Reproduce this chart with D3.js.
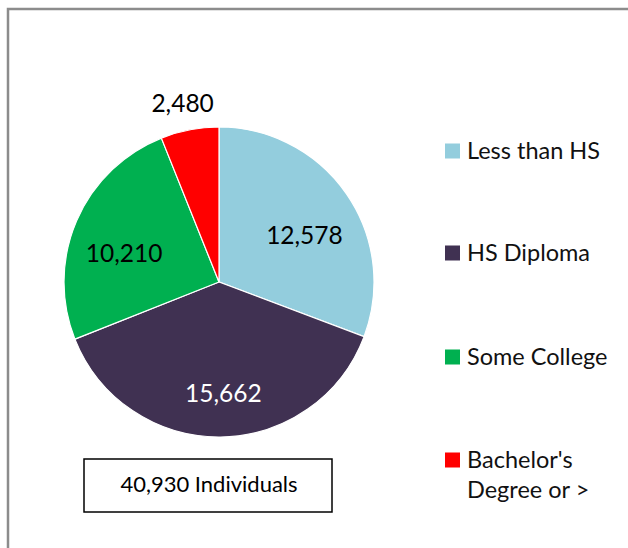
<!DOCTYPE html>
<html><head><meta charset="utf-8">
<script src="https://cdn.jsdelivr.net/npm/d3@7/dist/d3.min.js"></script>
<style>body{margin:0;background:#fff}svg{display:block}text{font-family:Lato,"Open Sans",sans-serif}</style>
</head><body><svg id="c" width="628" height="548"></svg>
<script>
const categories = ["Less than HS", "HS Diploma", "Some College", "Bachelor's Degree or >"];
const legendLines = [["Less than HS"], ["HS Diploma"], ["Some College"], ["Bachelor's", "Degree or >"]];
const values = [12578, 15662, 10210, 2480];
const colors = ["#93CDDD", "#403152", "#00B050", "#FF0000"];
const totalLabel = "40,930 Individuals";

const svg = d3.select("#c");
svg.append("rect").attr("x", 8).attr("y", 9).attr("width", 640).attr("height", 560)
  .attr("fill", "none").attr("stroke", "#8c8c8c").attr("stroke-width", 2.5);

const cx = 219, cy = 282, r = 155;
const pie = d3.pie().sort(null).value(d => d)(values);
const arc = d3.arc().innerRadius(0).outerRadius(r);
const g = svg.append("g").attr("transform", `translate(${cx},${cy})`);
g.selectAll("path").data(pie).join("path")
  .attr("d", arc).attr("fill", (d, i) => colors[i])
  .attr("stroke", "#fff").attr("stroke-width", 1.2);

const fmt = d3.format(",");
const labelR = [0.63, 0.72, 0.64, 1.18];
const labelShift = [0.1, -0.03, -0.11, -0.01]; // angular nudge (radians) like Excel best-fit
g.selectAll("text.v").data(pie).join("text")
  .attr("class", "v")
  .attr("transform", (d, i) => {
    const a = (d.startAngle + d.endAngle) / 2 + labelShift[i];
    const rr = labelR[i] * r;
    return `translate(${Math.sin(a) * rr},${-Math.cos(a) * rr})`;
  })
  .attr("text-anchor", "middle").attr("dy", "0.36em")
  .attr("font-size", 24.5)
  .attr("fill", (d, i) => i === 1 ? "#fff" : "#000")
  .text(d => fmt(d.value));

// total box
svg.append("rect").attr("x", 84).attr("y", 459).attr("width", 248).attr("height", 53)
  .attr("fill", "#fff").attr("stroke", "#000").attr("stroke-width", 1.5);
svg.append("text").attr("x", 209).attr("y", 492).attr("text-anchor", "middle")
  .attr("font-size", 22).text(totalLabel);

// legend
const ly = [151, 253, 357, 460];
const lg = svg.append("g");
categories.forEach((c, i) => {
  lg.append("rect").attr("x", 445).attr("y", ly[i] - 7.5).attr("width", 15).attr("height", 15)
    .attr("fill", colors[i]);
  const t = lg.append("text").attr("x", 467).attr("y", ly[i] + 8).attr("font-size", 23.5).attr("fill", "#111");
  legendLines[i].forEach((s, k) => t.append("tspan").attr("x", 467).attr("dy", k === 0 ? 0 : 30).text(s));
});
</script></body></html>
